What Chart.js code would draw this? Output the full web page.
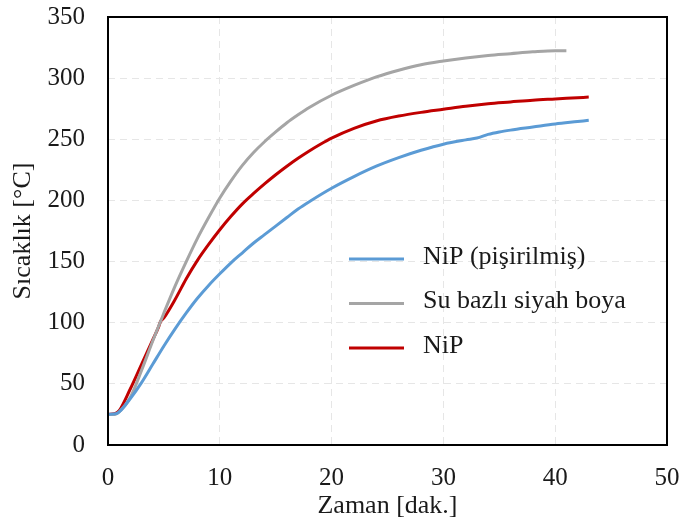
<!DOCTYPE html>
<html>
<head>
  <meta charset="utf-8">
  <title>Sıcaklık - Zaman</title>
  <script src="https://cdn.jsdelivr.net/npm/chart.js"></script>
  <style>
    body { margin: 0; background: #fff; }
    canvas { display: block; }
  </style>
</head>
<body>
  <canvas id="chart" width="680" height="531"></canvas>

  <script>
    // series: time [min] and temperature [°C]
    const seriesNames = ['NiP (pişirilmiş)', 'Su bazlı siyah boya', 'NiP'];
    const seriesColors = ['#5B9BD5', '#A5A5A5', '#C00000'];

    const bakedTime = [0, 0.7, 1, 2, 3, 4, 5, 6, 7, 8, 9, 10, 11, 12, 13, 14, 15, 16, 17, 18, 20, 22, 24, 26, 28, 30, 32, 33, 34, 35, 36, 38, 40, 42, 43];
    const bakedTemp = [25, 25.5, 27, 38, 51, 66, 81, 95, 108, 120, 130.5, 140, 149, 157, 165, 172, 179, 186, 193, 199, 210, 219.5, 228, 235, 241, 246, 249.5, 251, 254, 256, 257.5, 260, 262.5, 264.5, 265.5];

    const paintTime = [0, 0.6, 1, 2, 3, 4, 5, 6, 7, 8, 9, 10, 11, 12, 13, 14, 15, 16, 17, 18, 20, 22, 24, 26, 28, 30, 32, 34, 36, 38, 40, 41];
    const paintTemp = [25, 25, 27, 39, 61, 85, 108, 130, 150, 169, 186, 202, 216, 228.5, 239, 248, 256, 263.5, 270, 276, 286, 294, 301, 306.5, 311, 314, 316.5, 318.5, 320, 321.5, 322.5, 322.5];

    const nipTime = [0, 0.6, 1, 2, 3, 4, 4.5, 4.7, 5, 6, 7, 8, 9, 10, 11, 12, 13, 14, 15, 16, 17, 18, 19, 20, 22, 24, 26, 28, 30, 32, 34, 36, 38, 40, 42, 43];
    const nipTemp = [25, 25.5, 28, 46, 66, 86, 96, 101, 104, 119, 136, 151, 164, 176, 187, 197, 205.5, 213.5, 221, 228, 234.5, 240.5, 246, 251, 259, 265, 269, 272, 274.5, 277, 279, 280.5, 282, 283, 284, 284.5];

    const xTicks = [0, 10, 20, 30, 40, 50];
    const yTicks = [0, 50, 100, 150, 200, 250, 300, 350];

    const serif = '"Liberation Serif", "Times New Roman", serif';

    function pts(xs, ys) {
      return xs.map((x, i) => ({ x: x, y: ys[i] }));
    }

    const seriesData = [pts(bakedTime, bakedTemp), pts(paintTime, paintTemp), pts(nipTime, nipTemp)];

    // no extra room for overflowing tick labels, the padding below sets the plot box
    function fixSize(prop, size) {
      return function (scale) {
        scale[prop] = size;
        scale.paddingTop = 0;
        scale.paddingBottom = 0;
        scale.paddingLeft = 0;
        scale.paddingRight = 0;
      };
    }

    // box around the plot area + legend inside it
    const framePlugin = {
      id: 'frame',
      afterDatasetsDraw(chart) {
        const { ctx, chartArea: a } = chart;
        ctx.save();
        ctx.strokeStyle = '#000';
        ctx.lineWidth = 2;
        ctx.strokeRect(a.left, a.top, a.right - a.left, a.bottom - a.top);
        ctx.restore();
      },
      afterDraw(chart) {
        const { ctx, chartArea: a } = chart;
        const x0 = a.left + 241, y0 = a.top + 242, gap = 44.5;
        ctx.save();
        ctx.font = '26px ' + serif;
        ctx.textBaseline = 'middle';
        chart.data.datasets.forEach((ds, i) => {
          const y = y0 + i * gap;
          ctx.strokeStyle = ds.borderColor;
          ctx.lineWidth = 3;
          ctx.beginPath();
          ctx.moveTo(x0, y);
          ctx.lineTo(x0 + 55, y);
          ctx.stroke();
          ctx.fillStyle = '#1a1a1a';
          ctx.fillText(ds.label, x0 + 74, y - 2);
        });
        ctx.restore();
      }
    };

    new Chart(document.getElementById('chart'), {
      type: 'line',
      data: {
        datasets: seriesNames.map((name, i) => ({
          label: name,
          data: seriesData[i],
          borderColor: seriesColors[i],
          backgroundColor: seriesColors[i],
          borderWidth: 3,
          pointRadius: 0,
          cubicInterpolationMode: 'monotone',
          fill: false
        }))
      },
      options: {
        responsive: false,
        animation: false,
        layout: { padding: { top: 17, right: 13, left: 0, bottom: 0 } },
        plugins: {
          legend: { display: false },
          tooltip: { enabled: false }
        },
        scales: {
          x: {
            type: 'linear',
            min: 0,
            max: 50,
            afterFit: fixSize('height', 86),
            afterBuildTicks(scale) { scale.ticks = xTicks.map(v => ({ value: v })); },
            grid: { color: '#e6e6e6', lineWidth: 1, drawTicks: false },
            border: { display: false, dash: [7, 5] },
            ticks: { color: '#1a1a1a', padding: 18, font: { family: serif, size: 25 } },
            title: {
              display: true,
              text: 'Zaman [dak.]',
              color: '#1a1a1a',
              font: { family: serif, size: 26 },
              padding: { top: 0, bottom: 9 }
            }
          },
          y: {
            min: 0,
            max: 350,
            afterFit: fixSize('width', 108),
            afterBuildTicks(scale) { scale.ticks = yTicks.map(v => ({ value: v })); },
            grid: { color: '#e6e6e6', lineWidth: 1, drawTicks: false },
            border: { display: false, dash: [7, 5] },
            ticks: { color: '#1a1a1a', padding: 23, font: { family: serif, size: 25 } },
            title: {
              display: true,
              text: 'Sıcaklık [°C]',
              color: '#1a1a1a',
              font: { family: serif, size: 26 },
              padding: { top: 8, bottom: 0 }
            }
          }
        }
      },
      plugins: [framePlugin]
    });
  </script>
</body>
</html>
